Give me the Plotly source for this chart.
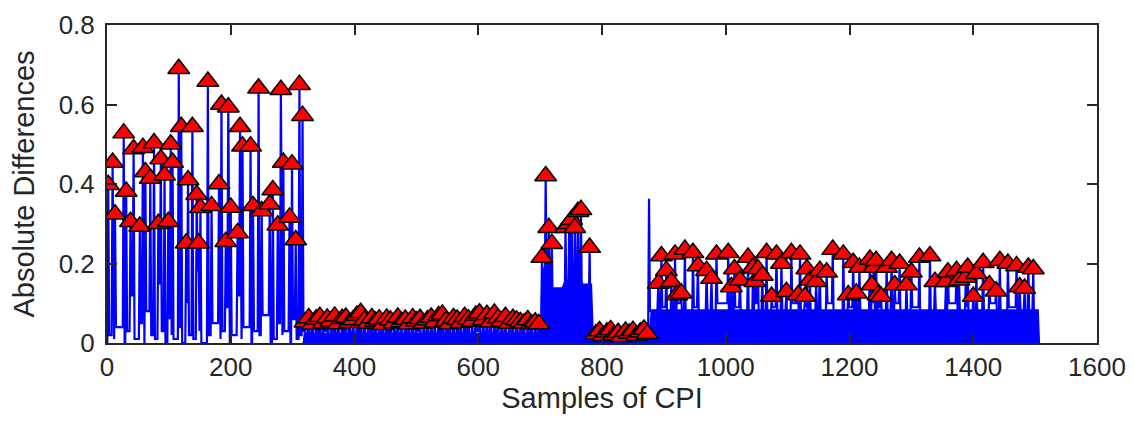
import plotly.graph_objects as pgo

# peaks (marked with red triangles) and the low level that follows each peak
seg1_x = [2, 9, 13, 27, 31, 38, 43, 53, 58, 62, 70, 76, 83, 87, 93, 99, 103, 106, 116, 120,
          128, 131, 138, 145, 148, 151, 163, 169, 181, 185, 192, 196, 200, 211, 215, 219, 232, 236, 245, 250,
          263, 268, 276, 281, 285, 295, 299, 305, 311, 316]
seg1_y = [0.398, 0.454, 0.324, 0.528, 0.381, 0.305, 0.488, 0.293, 0.491, 0.43, 0.414, 0.503, 0.30, 0.463, 0.422, 0.305, 0.50, 0.454, 0.69, 0.544,
          0.251, 0.41, 0.544, 0.373, 0.251, 0.34, 0.658, 0.345, 0.40, 0.60, 0.255, 0.593, 0.341, 0.277, 0.544, 0.495, 0.495, 0.345, 0.641, 0.332,
          0.349, 0.385, 0.296, 0.637, 0.454, 0.316, 0.45, 0.259, 0.65, 0.572]
seg1_low = [0.02, 0.01, 0.04, 0.0, 0.03, 0.12, 0.01, 0.05, 0.0, 0.08, 0.02, 0.01, 0.15, 0.03, 0.0, 0.06, 0.02, 0.01, 0.04, 0.0,
            0.1, 0.02, 0.01, 0.18, 0.03, 0.0, 0.02, 0.05, 0.01, 0.03, 0.09, 0.0, 0.02, 0.12, 0.01, 0.04, 0.0, 0.03, 0.02, 0.07,
            0.0, 0.01, 0.05, 0.02, 0.03, 0.0, 0.06, 0.01, 0.02, 0.03]

seg2_x = [320, 326, 332, 338, 344, 350, 356, 362, 368, 374, 380, 386, 392, 398, 404, 410, 416, 422, 428, 434,
          440, 446, 452, 458, 464, 470, 476, 482, 488, 494, 500, 506, 512, 518, 524, 530, 536, 542, 548, 554,
          560, 566, 572, 578, 584, 590, 596, 602, 608, 614, 620, 626, 632, 638, 644, 650, 656, 662, 668, 674,
          680, 686, 692, 698]
seg2_y = [0.052, 0.063, 0.047, 0.060, 0.066, 0.050, 0.062, 0.055, 0.067, 0.048, 0.061, 0.064, 0.051, 0.058, 0.069, 0.076, 0.057, 0.049, 0.063, 0.054,
          0.060, 0.046, 0.062, 0.057, 0.050, 0.064, 0.053, 0.059, 0.047, 0.063, 0.055, 0.061, 0.049, 0.058, 0.064, 0.052, 0.068, 0.072, 0.056, 0.048,
          0.063, 0.059, 0.051, 0.066, 0.060, 0.054, 0.069, 0.075, 0.058, 0.071, 0.052, 0.074, 0.062, 0.055, 0.066, 0.049, 0.061, 0.057, 0.053, 0.050,
          0.058, 0.047, 0.052, 0.048]
seg2_low = [0.012, 0.020, 0.008, 0.025, 0.015, 0.030, 0.010, 0.022, 0.018, 0.006, 0.027, 0.014, 0.021, 0.009, 0.024, 0.016, 0.011, 0.028, 0.019, 0.007,
            0.023, 0.013, 0.026, 0.010, 0.020, 0.015, 0.008, 0.025, 0.017, 0.012, 0.029, 0.009, 0.022, 0.014, 0.018, 0.006, 0.024, 0.011, 0.027, 0.016,
            0.010, 0.021, 0.013, 0.025, 0.008, 0.019, 0.030, 0.012, 0.017, 0.023, 0.009, 0.026, 0.014, 0.020, 0.007, 0.024, 0.011, 0.018, 0.028, 0.010,
            0.022, 0.015, 0.019, 0.012]

seg3_x = [703, 709, 714, 719, 741, 747, 751, 756, 761, 766, 780]
seg3_y = [0.215, 0.42, 0.29, 0.25, 0.29, 0.30, 0.31, 0.29, 0.33, 0.335, 0.24]
seg3_low = [0.12, 0.10, 0.14, 0.06, 0.11, 0.15, 0.09, 0.13, 0.10, 0.08, 0.02]

seg4_x = [790, 796, 802, 808, 814, 820, 826, 832, 838, 844, 850, 856, 862, 868, 873]
seg4_y = [0.022, 0.030, 0.018, 0.027, 0.033, 0.020, 0.026, 0.016, 0.029, 0.024, 0.031, 0.019, 0.027, 0.034, 0.023]
seg4_low = [0.004, 0.008, 0.003, 0.010, 0.005, 0.007, 0.002, 0.009, 0.004, 0.006, 0.003, 0.008, 0.005, 0.004, 0.006]

# lone spike without a marker
spike_x = [876]
spike_y = [0.363]
spike_low = [0.08]

seg6_x = [891, 896, 904, 912, 918, 921, 928, 934, 947, 955, 969, 977, 985, 1004, 1009, 1014, 1023, 1036, 1044, 1047,
          1052, 1059, 1066, 1074, 1082, 1090, 1098, 1106, 1117, 1120, 1128, 1131, 1136, 1146, 1152, 1163, 1173, 1190, 1198, 1206,
          1211, 1216, 1233, 1236, 1239, 1243, 1246, 1251, 1260, 1268, 1273, 1281, 1292, 1300, 1313, 1330, 1338, 1356, 1359, 1373,
          1377, 1388, 1391, 1400, 1405, 1416, 1426, 1437, 1443, 1456, 1470, 1475, 1483, 1489, 1497]
seg6_y = [0.15, 0.219, 0.182, 0.154, 0.223, 0.121, 0.125, 0.235, 0.227, 0.194, 0.182, 0.162, 0.223, 0.227, 0.141, 0.186, 0.158, 0.215, 0.19, 0.154,
          0.186, 0.17, 0.227, 0.117, 0.223, 0.2, 0.129, 0.227, 0.121, 0.223, 0.117, 0.186, 0.158, 0.154, 0.182, 0.178, 0.235, 0.223, 0.121, 0.202,
          0.125, 0.19, 0.21, 0.146, 0.19, 0.207, 0.121, 0.117, 0.19, 0.207, 0.146, 0.2, 0.146, 0.178, 0.215, 0.219, 0.154, 0.154, 0.178, 0.182,
          0.158, 0.165, 0.19, 0.117, 0.174, 0.202, 0.146, 0.13, 0.207, 0.2, 0.194, 0.141, 0.137, 0.19, 0.186]
seg6_low = [0.06, 0.09, 0.04, 0.08, 0.05, 0.10, 0.07, 0.03, 0.09, 0.06, 0.08, 0.05, 0.10, 0.04, 0.07, 0.09, 0.06, 0.03, 0.08, 0.10,
            0.05, 0.07, 0.04, 0.09, 0.06, 0.08, 0.03, 0.10, 0.05, 0.07, 0.09, 0.04, 0.06, 0.08, 0.05, 0.10, 0.03, 0.07, 0.09, 0.06,
            0.04, 0.08, 0.05, 0.10, 0.07, 0.03, 0.09, 0.06, 0.08, 0.04, 0.10, 0.05, 0.07, 0.09, 0.03, 0.06, 0.08, 0.05, 0.10, 0.04,
            0.07, 0.09, 0.06, 0.03, 0.08, 0.05, 0.10, 0.07, 0.04, 0.09, 0.06, 0.08, 0.05, 0.07, 0.02]

# dense low-level oscillation, drawn as a solid band
band_x = [316, 318, 700, 702, 713, 716, 735, 740, 765, 770, 784, 787, 874, 879, 1506, 1508]
band_y = [0.0, 0.026, 0.026, 0.19, 0.19, 0.14, 0.14, 0.16, 0.16, 0.15, 0.15, 0.01, 0.01, 0.085, 0.085, 0.0]

segments = [(seg1_x, seg1_y, seg1_low), (seg2_x, seg2_y, seg2_low), (seg3_x, seg3_y, seg3_low),
            (seg4_x, seg4_y, seg4_low), (spike_x, spike_y, spike_low), (seg6_x, seg6_y, seg6_low)]

# ------------------------------------------------------------------ #

half = 1.5  # half width of a spike, in samples
all_px = [x for s in segments for x in s[0]]
all_py = [v for s in segments for v in s[1]]
all_low = [v for s in segments for v in s[2]]
line_x, line_y = [], []
for k, x in enumerate(all_px):
    prev_low = all_low[k - 1] if k > 0 else 0.0
    nxt = all_px[k + 1] if k + 1 < len(all_px) else x + 8
    line_x += [x - half, x, x + half, nxt - half]
    line_y += [prev_low, all_py[k], all_low[k], all_low[k]]

mark_x = seg1_x + seg2_x + seg3_x + seg4_x + seg6_x
mark_y = seg1_y + seg2_y + seg3_y + seg4_y + seg6_y

fig = pgo.Figure()
fig.add_trace(pgo.Scatter(x=band_x, y=band_y, mode='lines', fill='tozeroy',
                          fillcolor='#0000ff', line=dict(width=0), hoverinfo='skip'))
fig.add_trace(pgo.Scatter(x=line_x, y=line_y, mode='lines', line=dict(color='#0000ff', width=2.2)))
fig.add_trace(pgo.Scatter(x=mark_x, y=mark_y, mode='markers',
                          marker=dict(symbol='triangle-up', size=19, color='#ff0000',
                                      line=dict(color='black', width=1.5))))

tick_font = dict(family='Liberation Sans, Arial, sans-serif', size=26, color='#262626')
title_font = dict(family='Liberation Sans, Arial, sans-serif', size=29, color='#262626')
axis_common = dict(showline=True, linecolor='#262626', linewidth=2, mirror='ticks',
                   ticks='inside', ticklen=10, tickwidth=1.5, tickcolor='#262626',
                   showgrid=False, zeroline=False, tickfont=tick_font, automargin=False,
                   ticklabeloverflow='allow')

# the page body adds an 8 px offset, so the margins are shifted to compensate
fig.update_layout(
    width=1134, height=425, showlegend=False,
    margin=dict(l=99, r=45, t=17, b=90),
    plot_bgcolor='white', paper_bgcolor='white',
    xaxis=dict(range=[0, 1600], tickvals=[0, 200, 400, 600, 800, 1000, 1200, 1400, 1600],
               title=dict(text='Samples of CPI', font=title_font, standoff=0), **axis_common),
    yaxis=dict(range=[0, 0.8], tickvals=[0, 0.2, 0.4, 0.6, 0.8],
               ticktext=['0', '0.2', '0.4', '0.6', '0.8'], ticklabelstandoff=5,
               title=dict(text='Absolute Differences', font=title_font, standoff=18), **axis_common),
)

fig.write_html("out.html")
